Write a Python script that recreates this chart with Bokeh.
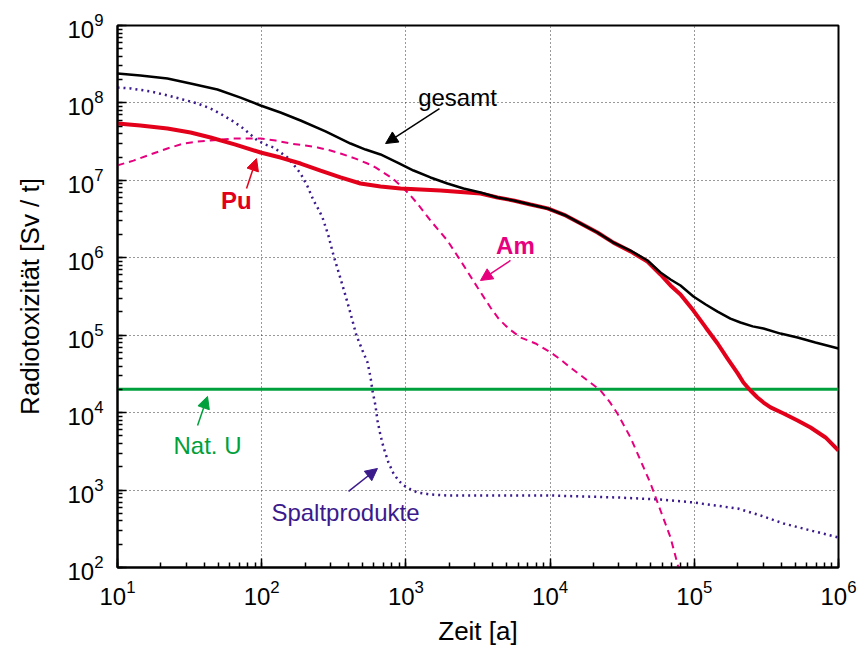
from bokeh.plotting import figure
from bokeh.models import Arrow, NormalHead, Label
from bokeh.embed import file_html
from bokeh.resources import INLINE

# Radiotoxicity of spent fuel (Sv per tonne) over time (years)
FONT = "Liberation Sans"

# total
t_gesamt = [10, 14.4, 22.2, 32.1, 49.3, 71.3, 98.2, 135, 186, 277, 413, 525, 667,
            875, 1130, 1480, 1940, 2510, 3290, 4320, 5570, 7310, 9600, 12800,
            16300, 21300, 27500, 36100, 47300, 58300, 68400, 80200, 98600, 120000,
            145000, 178000, 209000, 254000, 302000, 396000, 520000, 692000, 1e6]
v_gesamt = [2.40e8, 2.26e8, 2.07e8, 1.78e8, 1.49e8, 1.17e8, 9.27e7, 7.52e7, 5.93e7,
            4.28e7, 2.99e7, 2.50e7, 2.16e7, 1.70e7, 1.34e7, 1.09e7, 9.10e6, 7.85e6,
            6.97e6, 6.01e6, 5.50e6, 4.88e6, 4.34e6, 3.52e6, 2.77e6, 2.12e6, 1.57e6,
            1.24e6, 9.23e5, 6.46e5, 5.25e5, 4.39e5, 3.16e5, 2.49e5, 2.02e5, 1.64e5,
            1.46e5, 1.30e5, 1.22e5, 1.05e5, 9.35e4, 8.05e4, 6.73e4]

# plutonium
t_pu = [10, 14.4, 22.2, 32.1, 44.2, 65.8, 98.2, 135, 186, 256, 352, 484, 667, 918,
        1740, 3290, 4320, 5570, 7310, 9600, 12800, 16300, 21300, 27500, 36100,
        47300, 58300, 68400, 80200, 98600, 120000, 145000, 170000, 200000, 219000,
        245000, 274000, 302000, 338000, 416000, 520000, 640000, 813000, 1e6]
v_pu = [5.42e7, 5.11e7, 4.67e7, 4.15e7, 3.58e7, 2.90e7, 2.29e7, 1.97e7, 1.65e7,
        1.34e7, 1.09e7, 9.10e6, 8.34e6, 7.85e6, 7.40e6, 6.76e6, 6.01e6, 5.50e6,
        4.88e6, 4.34e6, 3.52e6, 2.77e6, 2.12e6, 1.57e6, 1.21e6, 8.95e5, 6.08e5,
        4.39e5, 3.36e5, 2.08e5, 1.26e5, 7.82e4, 5.00e4, 3.21e4, 2.45e4, 1.93e4,
        1.57e4, 1.35e4, 1.17e4, 9.75e3, 7.92e3, 6.43e3, 4.78e3, 3.24e3]

# americium
t_am = [10, 12.9, 16.9, 22.2, 28.7, 35.9, 44.2, 63.7, 98.2, 125, 158, 201, 244,
        300, 352, 447, 542, 615, 700, 807, 918, 1060, 1200, 1480, 1940, 2390,
        3140, 3860, 4390, 4910, 5480, 6240, 7930, 10100, 11800, 13800, 18200,
        22400, 25800, 29300, 36100, 42400, 49700, 58300, 68400, 77600, 84100]
v_am = [1.56e7, 1.80e7, 2.16e7, 2.58e7, 2.99e7, 3.18e7, 3.27e7, 3.47e7, 3.47e7,
        3.27e7, 2.99e7, 2.82e7, 2.66e7, 2.43e7, 2.22e7, 1.91e7, 1.65e7, 1.47e7,
        1.26e7, 1.06e7, 8.59e6, 6.56e6, 5.03e6, 3.03e6, 1.67e6, 9.23e5, 4.13e5,
        2.28e5, 1.64e5, 1.33e5, 1.12e5, 9.35e4, 7.82e4, 5.98e4, 4.86e4, 3.83e4,
        2.60e4, 1.93e4, 1.39e4, 9.75e3, 4.78e3, 2.41e3, 1.22e3, 545, 244, 100, 68]

# fission products
t_fp = [10, 12.3, 16.9, 22.2, 28.3, 35.9, 44.2, 54.3, 63.7, 74.8, 83.6, 93.5, 106,
        121, 135, 151, 166, 186, 208, 229, 248, 264, 290, 315, 347, 381, 413, 454,
        500, 542, 569, 586, 615, 635, 667, 700, 757, 820, 889, 962, 1080, 1200,
        1480, 1940, 10100, 29300, 58300, 98600, 140000, 200000, 288000, 416000,
        640000, 1e6]
v_fp = [1.58e8, 1.54e8, 1.41e8, 1.25e8, 1.11e8, 9.84e7, 8.47e7, 6.89e7, 5.75e7,
        4.67e7, 3.91e7, 3.27e7, 2.90e7, 2.66e7, 2.29e7, 1.97e7, 1.60e7, 1.23e7,
        8.34e6, 5.50e6, 4.21e6, 3.31e6, 1.94e6, 1.07e6, 5.90e5, 3.26e5, 1.91e5,
        9.91e4, 6.35e4, 4.45e4, 2.84e4, 1.93e4, 1.24e4, 7.92e3, 5.07e3, 3.55e3,
        2.27e3, 1.64e3, 1.33e3, 1.15e3, 1.02e3, 931, 877, 851, 851, 802, 755, 692,
        632, 578, 470, 370, 301, 244]

# natural uranium reference level
t_natu = [10, 1e6]
v_natu = [2e4, 2e4]

BLACK = "#000000"
RED = "#e2001a"
MAGENTA = "#e6007e"
INDIGO = "#3b1a8c"
GREEN = "#00a03c"

p = figure(width=859, height=648, x_axis_type="log", y_axis_type="log",
           x_range=(10, 1e6), y_range=(1e2, 1e9),
           output_backend="svg", toolbar_location=None,
           min_border_left=117, min_border_right=21,
           min_border_top=25, min_border_bottom=81)

p.background_fill_color = "white"
p.border_fill_color = "white"
p.outline_line_color = "black"
p.outline_line_width = 2

for ax in (p.xaxis[0], p.yaxis[0]):
    ax.axis_line_width = 2
    ax.axis_line_color = "black"
    ax.major_tick_in = 9
    ax.major_tick_out = 0
    ax.minor_tick_in = 5
    ax.minor_tick_out = 0
    ax.major_tick_line_width = 1.5
    ax.minor_tick_line_width = 1.5
    ax.major_label_text_font = FONT
    ax.major_label_text_font_size = "24px"
    ax.major_label_text_color = "black"
    ax.axis_label_text_font = FONT
    ax.axis_label_text_font_size = "26px"
    ax.axis_label_text_font_style = "normal"
    ax.axis_label_text_color = "black"

p.xaxis.axis_label = "Zeit [a]"
p.yaxis.axis_label = "Radiotoxizität [Sv / t]"
p.xaxis.major_label_standoff = 12
p.yaxis.major_label_standoff = 14
p.xaxis.axis_label_standoff = 8
p.yaxis.axis_label_standoff = 19

for g in (p.xgrid[0], p.ygrid[0]):
    g.grid_line_color = "#333333"
    g.grid_line_dash = "1 3"
    g.grid_line_width = 1

p.line(t_natu, v_natu, color=GREEN, line_width=3)
p.line(t_fp, v_fp, color=INDIGO, line_width=2.5, line_dash="2 4")
p.line(t_am, v_am, color=MAGENTA, line_width=2, line_dash="7 5")
p.line(t_pu, v_pu, color=RED, line_width=4)
p.line(t_gesamt, v_gesamt, color=BLACK, line_width=2.5)

# callouts: (text, colour, bold, label x/y, arrow tail x/y, arrow head x/y)
callouts = [
    ("gesamt", BLACK, False, (2280, 1.17e8), (1710, 8.47e7), (723, 2.99e7)),
    ("Pu", RED, True, (66.8, 5.5e6), (78.5, 7.85e6), (92.1, 1.91e7)),
    ("Am", MAGENTA, True, (5750, 1.44e6), (5310, 9.23e5), (3290, 5.09e5)),
    ("Nat. U", GREEN, False, (42.1, 3.77e3), (35.9, 6.82e3), (42.1, 1.62e4)),
    ("Spaltprodukte", INDIGO, False, (381, 513), (400, 960), (635, 1900)),
]
for text, col, bold, (lx, ly), (ax_, ay), (hx, hy) in callouts:
    p.add_layout(Label(x=lx, y=ly, text=text, text_color=col,
                       text_font=FONT, text_font_size="24px",
                       text_font_style="bold" if bold else "normal",
                       text_align="center", text_baseline="middle"))
    p.add_layout(Arrow(x_start=ax_, y_start=ay, x_end=hx, y_end=hy,
                       line_color=col, line_width=1.5,
                       end=NormalHead(size=12, fill_color=col, line_color=col)))

open("out.html", "w").write(file_html(p, INLINE))
